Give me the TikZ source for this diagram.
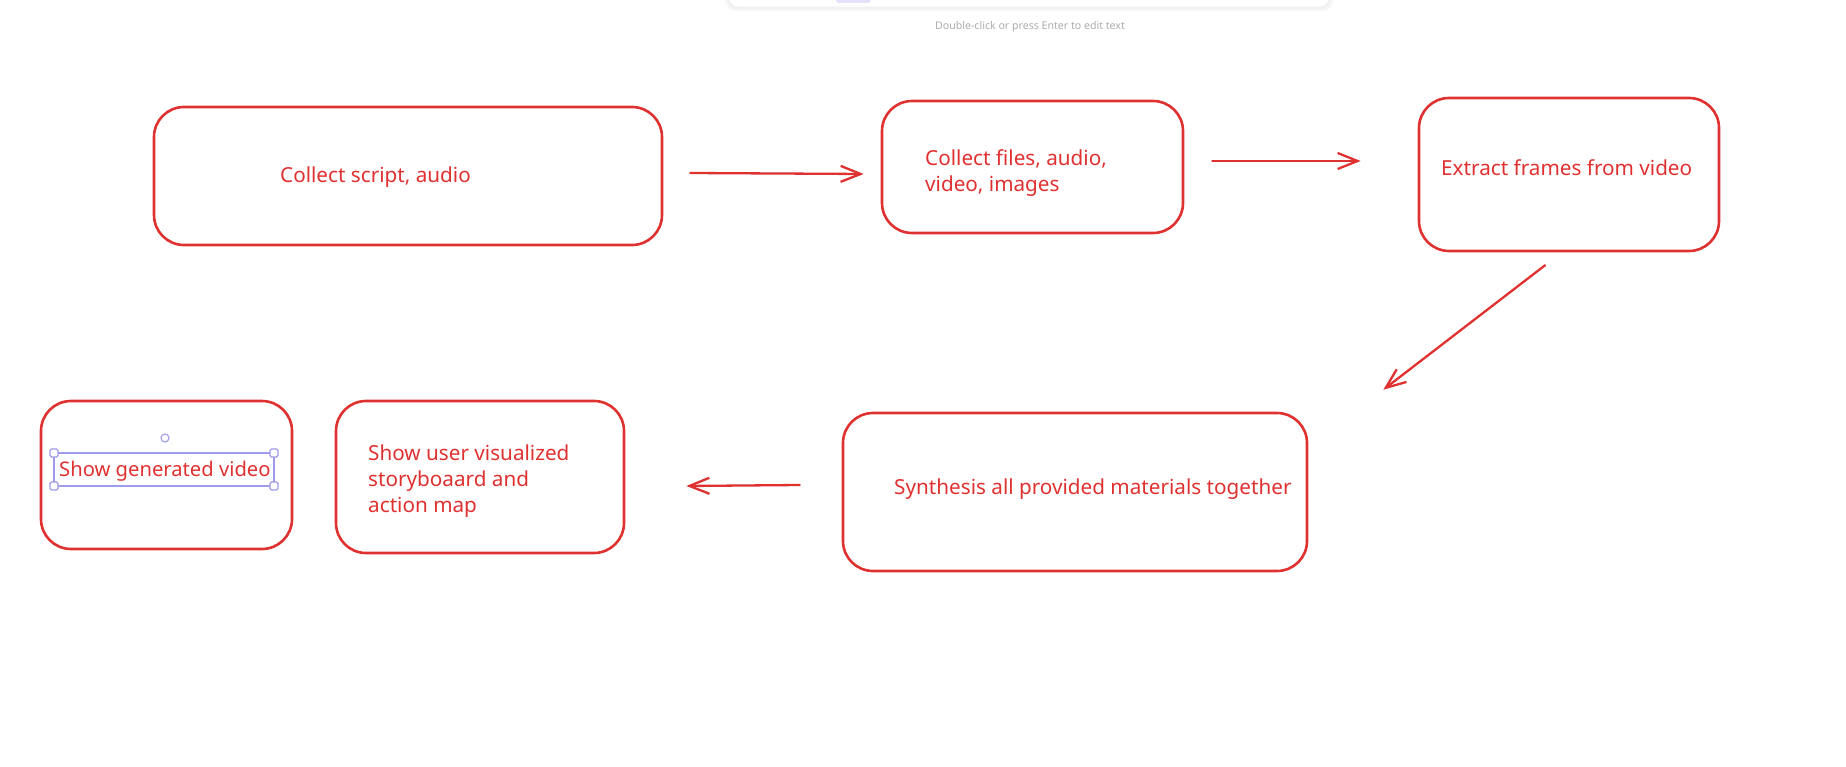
\documentclass[tikz,border=0pt]{standalone}
\usepackage{fontspec}
\setmainfont{Noto Sans}
\usetikzlibrary{arrows.meta,calc}
\definecolor{exred}{HTML}{E03131}
\definecolor{selpurple}{HTML}{9E9BEC}
\definecolor{hintgray}{HTML}{ADADAD}
\definecolor{toolfill}{HTML}{E4E2FB}
\begin{document}
\begin{tikzpicture}[x=1pt,y=-1pt,
  stepbox/.style={draw=exred, line width=2.6pt, rounded corners=30pt, inner sep=0pt},
  lbl/.style={text=exred, font=\fontsize{20.7}{26}\selectfont, inner sep=0pt, anchor=west, align=left},
  arr/.style={draw=exred, line width=2.3pt, line cap=round, -{Straight Barb[length=20pt,width=16pt,line width=2.3pt]}},
  selbox/.style={draw=selpurple, line width=1.3pt},
  handle/.style={draw=selpurple, fill=white, line width=1.1pt, rounded corners=1.5pt, minimum size=8pt, inner sep=0pt}
]
\useasboundingbox[fill=white] (0,0) rectangle (1846,767);

% toolbar remnant
\fill[black!3, rounded corners=11pt] (725,-20) rectangle (1333,11);
\fill[black!5, rounded corners=10pt] (727,-20) rectangle (1331,9);
\fill[white, draw=black!6, line width=0.6pt, rounded corners=9pt] (729,-20) rectangle (1329,7);
\fill[toolfill, rounded corners=3pt] (836,-10) rectangle (871,3);
\node[text=hintgray, font=\fontsize{10.6}{13}\selectfont, inner sep=0pt] (hint) at (1030,27) {Double-click or press Enter to edit text};

% boxes
\node[stepbox, minimum width=508pt, minimum height=138pt] (b1) at (408,176) {};
\node[stepbox, minimum width=301pt, minimum height=132pt] (b2) at (1032.5,167) {};
\node[stepbox, minimum width=300pt, minimum height=153pt] (b3) at (1569,174.5) {};
\node[stepbox, minimum width=464pt, minimum height=158pt] (b4) at (1075,492) {};
\node[stepbox, minimum width=288pt, minimum height=152pt] (b5) at (480,477) {};
\node[stepbox, minimum width=251pt, minimum height=148pt] (b6) at (166.5,475) {};

% labels
\node[lbl] (t1) at (280,177) {Collect script, audio};
\node[lbl] (t2) at (925,173) {Collect files, audio,\\video, images};
\node[lbl] (t3) at (1441,168) {Extract frames from video};
\node[lbl] (t4) at (894,489) {Synthesis all provided materials together};
\node[lbl] (t5) at (368,481) {Show user visualized\\storyboaard and\\action map};
\node[lbl, font=\fontsize{20.2}{26}\selectfont] (t6) at (59,471) {Show generated video};

% selection around t6
\draw[selbox] (54,453) rectangle (274,486);
\node[handle] (h1) at (54,453) {};
\node[handle] (h2) at (274,453) {};
\node[handle] (h3) at (54,486) {};
\node[handle] (h4) at (274,486) {};
\node[draw=selpurple, fill=white, line width=1.1pt, circle, minimum size=8pt, inner sep=0pt] (rot) at (165,438) {};

% connectors
\draw[arr] ($(b1.east)+(27,-3)$) -- ($(b2.west)+(-17,7)$);
\draw[arr] ($(b2.east)+(28,-6)$) -- ($(b3.west)+(-57,-13.5)$);
\draw[arr] ($(b3.south)+(-24,13)$) -- ($(b4.north east)+(75,-22)$);
\draw[arr] ($(b4.west)+(-42,-7)$) -- ($(b5.east)+(61,9)$);
\end{tikzpicture}
\end{document}
